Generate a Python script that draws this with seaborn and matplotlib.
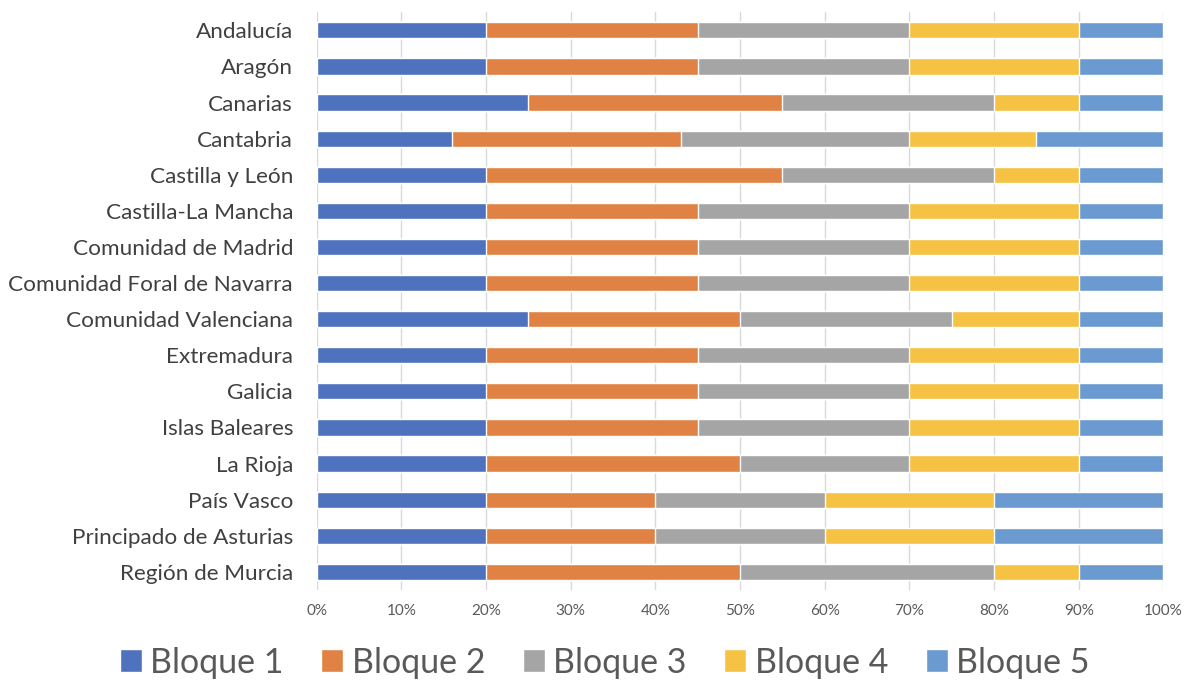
import numpy as np
import pandas as pd
import matplotlib.pyplot as plt
import seaborn as sns
from matplotlib.patches import Patch
from matplotlib.ticker import PercentFormatter

# ---- Data ----
regions = [
    "Andalucía", "Aragón", "Canarias", "Cantabria", "Castilla y León",
    "Castilla-La Mancha", "Comunidad de Madrid", "Comunidad Foral de Navarra",
    "Comunidad Valenciana", "Extremadura", "Galicia", "Islas Baleares",
    "La Rioja", "País Vasco", "Principado de Asturias", "Región de Murcia",
]
bloque1 = [20, 20, 25, 16, 20, 20, 20, 20, 25, 20, 20, 20, 20, 20, 20, 20]
bloque2 = [25, 25, 30, 27, 35, 25, 25, 25, 25, 25, 25, 25, 30, 20, 20, 30]
bloque3 = [25, 25, 25, 27, 25, 25, 25, 25, 25, 25, 25, 25, 20, 20, 20, 30]
bloque4 = [20, 20, 10, 15, 10, 20, 20, 20, 15, 20, 20, 20, 20, 20, 20, 10]
bloque5 = [10, 10, 10, 15, 10, 10, 10, 10, 10, 10, 10, 10, 10, 20, 20, 10]

series = ["Bloque 1", "Bloque 2", "Bloque 3", "Bloque 4", "Bloque 5"]
colors = ["#4E72BE", "#DF8244", "#A5A5A5", "#F6C243", "#6A9AD0"]

df = pd.DataFrame({"region": regions, "Bloque 1": bloque1, "Bloque 2": bloque2,
                   "Bloque 3": bloque3, "Bloque 4": bloque4, "Bloque 5": bloque5})
cum = df[series].cumsum(axis=1)

# ---- Plot ----
sns.set_theme(style="white")
plt.rcParams['font.family'] = ['Lato', 'DejaVu Sans']
fig = plt.figure(figsize=(11.86, 6.82), dpi=100)
ax = fig.add_axes([0.267, 0.135, 0.714, 0.847])

# draw from the total down so each segment shows on top of the next
for name, c in zip(series[::-1], colors[::-1]):
    sns.barplot(x=cum[name], y=df["region"], color=c, width=0.45,
                saturation=1, orient="h", ax=ax, zorder=3)

ax.set_xlim(0, 100)
ax.set_xticks(np.arange(0, 101, 10))
ax.xaxis.set_major_formatter(PercentFormatter(decimals=0))
ax.grid(axis="x", color="#D9D9D9", linewidth=1, zorder=0)
for s in ax.spines.values():
    s.set_visible(False)
ax.set_xlabel("")
ax.set_ylabel("")
ax.tick_params(axis="y", labelsize=16.2, colors="#404040", length=0, pad=17)
ax.tick_params(axis="x", labelsize=11, colors="#595959", length=0, pad=10)

handles = [Patch(facecolor=c, label=n) for n, c in zip(series, colors)]
fig.legend(handles=handles, loc="lower center", bbox_to_anchor=(0.51, -0.04),
           ncol=5, frameon=False, fontsize=24.5, handlelength=0.65,
           handleheight=0.65, handletextpad=0.25, columnspacing=1.1,
           labelcolor="#595959")

plt.savefig("out.png", dpi=100)
